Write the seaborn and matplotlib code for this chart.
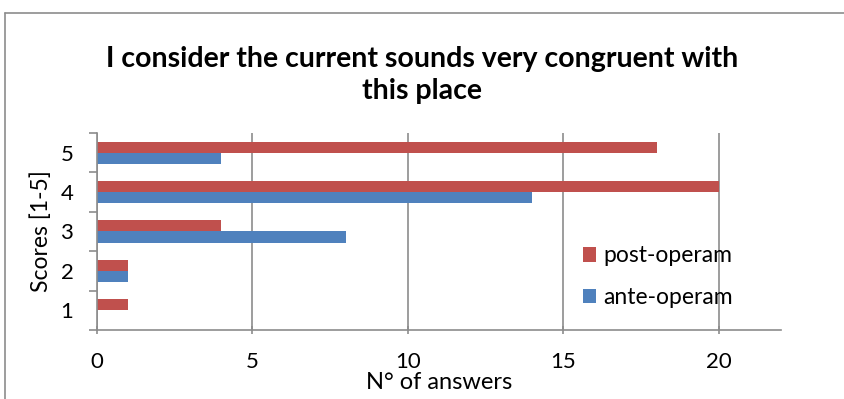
import matplotlib
matplotlib.use("Agg")
import matplotlib.pyplot as plt
from matplotlib.lines import Line2D
from matplotlib.ticker import FixedLocator
import seaborn as sns
import pandas as pd

# Survey answers per score
scores = ["5", "4", "3", "2", "1"]
post_operam = [18, 20, 4, 1, 1]
ante_operam = [4, 14, 8, 1, 0]
x_ticks = [0, 5, 10, 15, 20]

title = "I consider the current sounds very congruent with\nthis place"

df = pd.DataFrame({
    "score": scores * 2,
    "count": post_operam + ante_operam,
    "phase": ["post-operam"] * len(scores) + ["ante-operam"] * len(scores),
})

sns.set_theme(style="white")
plt.rcParams["font.family"] = ["Lato", "DejaVu Sans"]
plt.rcParams["text.color"] = "black"
plt.rcParams["axes.labelcolor"] = "black"

fig = plt.figure(figsize=(8.45, 3.99), dpi=100)
ax = fig.add_axes([97 / 845, 1 - 330 / 399, (781 - 97) / 845, (330 - 133) / 399])

palette = {"post-operam": "#C0504D", "ante-operam": "#4F81BD"}
sns.barplot(data=df, y="score", x="count", hue="phase", order=scores,
            hue_order=["post-operam", "ante-operam"], palette=palette,
            orient="h", width=0.56, gap=0, saturation=1, ax=ax,
            edgecolor="none", linewidth=0)

ax.set_xlim(0, 22)
ax.set_ylim(4.5, -0.5)
ax.set_xticks(x_ticks)
ax.xaxis.grid(True, color="#8c8c8c", linewidth=1.2)
ax.yaxis.grid(False)
ax.set_axisbelow(True)

for s in ["top", "right"]:
    ax.spines[s].set_visible(False)
for s in ["left", "bottom"]:
    ax.spines[s].set_color("#8c8c8c")
    ax.spines[s].set_linewidth(1.2)

# Category ticks sit between groups; labels stay centred
ax.yaxis.set_minor_locator(FixedLocator([-0.5, 0.5, 1.5, 2.5, 3.5, 4.5]))
ax.tick_params(axis="y", which="major", length=0, pad=17, labelsize=16,
               labelcolor="black")
ax.tick_params(axis="y", which="minor", left=True, length=6, width=1.2, color="#8c8c8c")
ax.tick_params(axis="x", which="major", bottom=True, length=6, width=1.2,
               color="#8c8c8c", labelsize=16, pad=13, direction="inout",
               labelcolor="black")

ax.set_ylabel("Scores [1-5]", fontsize=16.5, labelpad=6)
ax.set_xlabel("N° of answers", fontsize=17, labelpad=0)

fig.suptitle(title, fontsize=20.5, fontweight="bold", y=1 - 46 / 399, va="top",
             x=0.5, linespacing=1.3, color="black")

ax.legend(loc="center left", bbox_to_anchor=(0.68, 0.27), frameon=False,
          fontsize=16.5, handlelength=0.6, handleheight=0.6, handletextpad=0.3,
          labelspacing=0.9, labelcolor="black")

# Chart area border
fig.add_artist(Line2D([5 / 845, 1], [1 - 13 / 399] * 2, color="#8c8c8c", lw=1.2,
                      transform=fig.transFigure))
fig.add_artist(Line2D([5 / 845] * 2, [0, 1 - 13 / 399], color="#8c8c8c", lw=1.2,
                      transform=fig.transFigure))

fig.savefig("out.png", dpi=100)
